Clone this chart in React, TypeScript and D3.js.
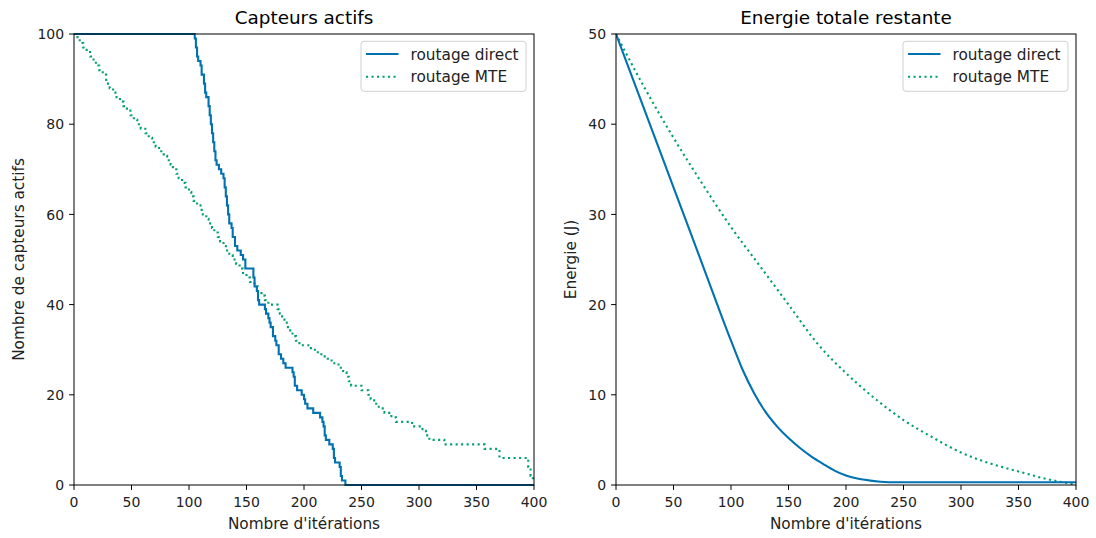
import React from 'react';
import * as d3 from 'd3';

// iterations
const xTicks = [0, 50, 100, 150, 200, 250, 300, 350, 400];
const capteursTicks = [0, 20, 40, 60, 80, 100];
const energieTicks = [0, 10, 20, 30, 40, 50];

// Capteurs actifs, routage direct (step breakpoints: [iteration, capteurs])
const capteursDirect: [number, number][] = [
  [0, 100], [104, 100], [105, 99], [106, 97], [107, 95], [108, 94], [110, 93], [111, 91],
  [113, 89], [114, 87], [115, 86], [117, 84], [118, 82], [119, 80], [120, 78], [121, 76],
  [122, 74], [123, 72], [124, 71], [126, 70], [128, 69], [130, 68], [131, 66], [132, 64],
  [133, 62], [134, 60], [135, 58], [137, 57], [138, 55], [140, 53], [142, 52], [145, 51],
  [147, 50], [149, 48], [155, 48], [156, 46], [157, 44], [159, 43], [160, 41], [161, 40],
  [166, 39], [167, 38], [169, 37], [170, 36], [171, 35], [173, 33], [175, 32], [176, 31],
  [178, 29], [180, 28], [182, 27], [184, 26], [190, 25], [191, 24], [192, 22], [194, 21],
  [198, 20], [200, 19], [201, 18], [203, 17], [208, 16], [214, 15], [216, 14], [217, 13],
  [218, 11], [219, 10], [222, 9], [225, 8], [226, 6], [227, 5], [231, 4], [232, 2],
  [233, 1], [236, 0], [400, 0],
];

// Capteurs actifs, routage MTE
const capteursMTE: [number, number][] = [
  [0, 100], [3, 99], [5, 98], [8, 97], [11, 96], [14, 95], [17, 94], [19, 93], [22, 92],
  [25, 91], [28, 89], [31, 88], [34, 87], [37, 86], [40, 85], [43, 84], [46, 83], [49, 82],
  [52, 81], [55, 80], [58, 79], [62, 78], [65, 77], [68, 76], [71, 75], [74, 74], [78, 73],
  [81, 72], [84, 71], [86, 70], [89, 69], [91, 68], [94, 67], [97, 66], [100, 65], [102, 64],
  [104, 63], [107, 62], [110, 61], [112, 60], [115, 59], [117, 58], [120, 57], [122, 56],
  [125, 55], [127, 54], [130, 53], [132, 52], [135, 51], [138, 50], [141, 49], [144, 48],
  [147, 47], [150, 46], [153, 45], [157, 44], [160, 43], [163, 42], [166, 41], [169, 40],
  [177, 39], [179, 38], [181, 37], [183, 36], [185, 35], [188, 34], [190, 33], [193, 32],
  [196, 31], [206, 30], [212, 29], [218, 28], [224, 27], [230, 26], [234, 25], [237, 24],
  [239, 23], [241, 22], [250, 21], [256, 20], [258, 19], [261, 18], [265, 17], [270, 16],
  [276, 15], [280, 14], [294, 13], [303, 12], [306, 11], [309, 10], [322, 9], [357, 8],
  [370, 6], [395, 4], [397, 2], [399, 1], [400, 1],
];

// Energie totale restante (J)
const energieDirect: [number, number][] = [
  [0, 50], [25, 41.5], [50, 33], [75, 24.5], [100, 16.0], [110, 12.8], [120, 10.2],
  [130, 8.1], [140, 6.5], [150, 5.2], [160, 4.1], [170, 3.15], [180, 2.35], [190, 1.6],
  [200, 1.05], [215, 0.6], [230, 0.36], [245, 0.3], [400, 0.3],
];
const energieMTE: [number, number][] = [
  [0, 50], [25, 44], [50, 38.5], [75, 33.4], [100, 28.6], [125, 24.3], [150, 20],
  [175, 15.7], [200, 12.4], [225, 9.6], [250, 7.2], [275, 5.3], [300, 3.6], [325, 2.4],
  [350, 1.5], [375, 0.65], [400, 0.05],
];

const BLUE = '#0072B2';
const GREEN = '#009E73';
const FONT = 'DejaVu Sans, sans-serif';
const TICK_FS = 14;
const LABEL_FS = 15.3;
const TITLE_FS = 18.4;

const top = 34, bottom = 485;

type PanelProps = {
  left: number; right: number; title: string; yLabel: string; yMax: number;
  yTicks: number[]; direct: [number, number][]; mte: [number, number][];
  curve: d3.CurveFactory; yLabelX: number;
};

const Panel = ({ left, right, title, yLabel, yMax, yTicks, direct, mte, curve, yLabelX }: PanelProps) => {
  const x = d3.scaleLinear().domain([0, 400]).range([left, right]);
  const y = d3.scaleLinear().domain([0, yMax]).range([bottom, top]);
  const line = d3.line<[number, number]>().x(d => x(d[0])).y(d => y(d[1])).curve(curve);
  const cx = (left + right) / 2;
  const lx = right - 173;
  return (
    <g>
      <defs>
        <clipPath id={`clip-${left}`}>
          <rect x={left} y={top - 2} width={right - left + 2} height={bottom - top + 4} />
        </clipPath>
      </defs>
      <g clipPath={`url(#clip-${left})`}>
        <path d={line(mte) ?? ''} fill="none" stroke={GREEN} strokeWidth={2.1} strokeDasharray="2.1 3.4" />
        <path d={line(direct) ?? ''} fill="none" stroke={BLUE} strokeWidth={2.1} strokeLinejoin="miter" />
      </g>
      <rect x={left} y={top} width={right - left} height={bottom - top} fill="none" stroke="#000" strokeWidth={1} />
      {xTicks.map(t => (
        <g key={`x${t}`}>
          <line x1={x(t)} x2={x(t)} y1={bottom} y2={bottom + 4.9} stroke="#000" />
          <text x={x(t)} y={bottom + 22} textAnchor="middle" fontSize={TICK_FS} fontFamily={FONT} fill="#222">{t}</text>
        </g>
      ))}
      {yTicks.map(t => (
        <g key={`y${t}`}>
          <line x1={left - 4.9} x2={left} y1={y(t)} y2={y(t)} stroke="#000" />
          <text x={left - 9.8} y={y(t) + 5.1} textAnchor="end" fontSize={TICK_FS} fontFamily={FONT} fill="#222">{t}</text>
        </g>
      ))}
      <text x={cx} y={24} textAnchor="middle" fontSize={TITLE_FS} fontFamily={FONT} fill="#000">{title}</text>
      <text x={cx} y={529.3} textAnchor="middle" fontSize={LABEL_FS} fontFamily={FONT} fill="#222">Nombre d'itérations</text>
      <text transform={`translate(${yLabelX},${(top + bottom) / 2}) rotate(-90)`} textAnchor="middle" fontSize={LABEL_FS} fontFamily={FONT} fill="#222">{yLabel}</text>
      <g>
        <rect x={lx} y={41.3} width={165} height={50} rx={3} fill="#fff" fillOpacity={0.8} stroke="#d0d0d0" />
        <line x1={lx + 5} x2={lx + 37.5} y1={54} y2={54} stroke={BLUE} strokeWidth={2.1} />
        <text x={lx + 49.5} y={59.5} fontSize={LABEL_FS} fontFamily={FONT} fill="#222">routage direct</text>
        <line x1={lx + 5} x2={lx + 37.5} y1={76.7} y2={76.7} stroke={GREEN} strokeWidth={2.1} strokeDasharray="2.1 3.4" />
        <text x={lx + 49.5} y={82.2} fontSize={LABEL_FS} fontFamily={FONT} fill="#222">routage MTE</text>
      </g>
    </g>
  );
};

export default function App() {
  return (
    <svg width={1096} height={538} style={{ display: 'block', position: 'absolute', left: 0, top: 0, background: '#fff' }}>
      <rect width={1096} height={538} fill="#fff" />
      <Panel left={74} right={534} title="Capteurs actifs" yLabel="Nombre de capteurs actifs"
        yMax={100} yTicks={capteursTicks} direct={capteursDirect} mte={capteursMTE}
        curve={d3.curveStepAfter} yLabelX={23.5} />
      <Panel left={616} right={1076} title="Energie totale restante" yLabel="Energie (J)"
        yMax={50} yTicks={energieTicks} direct={energieDirect} mte={energieMTE}
        curve={d3.curveMonotoneX} yLabelX={575.5} />
    </svg>
  );
}
